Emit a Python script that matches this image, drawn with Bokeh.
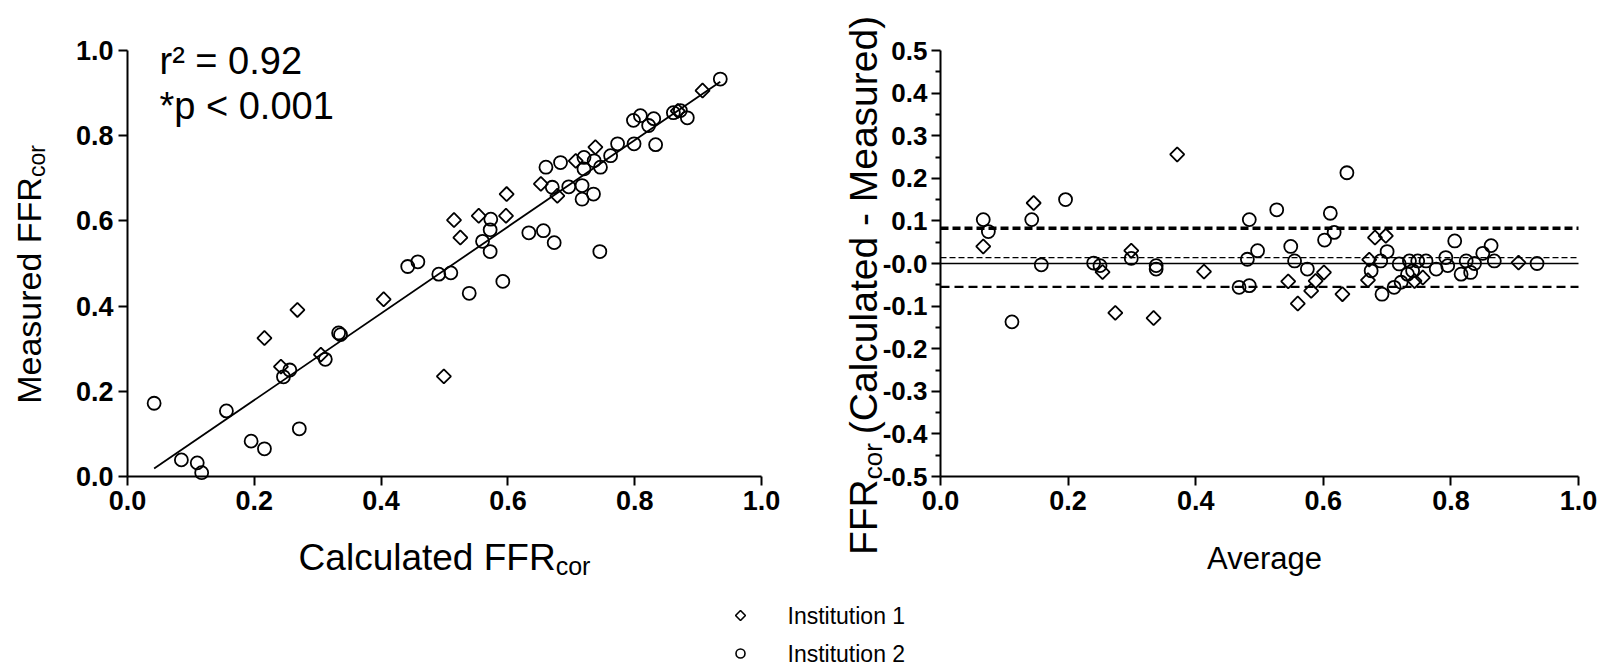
import numpy as np
from bokeh.plotting import figure
from bokeh.models import Range1d, FixedTicker, CustomJSTickFormatter, Label
from bokeh.layouts import column, row
from bokeh.embed import file_html
from bokeh.resources import INLINE
from bokeh.core.properties import value

# ---------------- data ----------------
series_names = ["Institution 1", "Institution 2"]
unit_ticks = [0.0, 0.2, 0.4, 0.6, 0.8, 1.0]
diff_ticks = [-0.5, -0.4, -0.3, -0.2, -0.1, 0.0, 0.1, 0.2, 0.3, 0.4, 0.5]
diff_minor_ticks = [-0.45, -0.35, -0.25, -0.15, -0.05, 0.05, 0.15, 0.25, 0.35, 0.45]

# scatter: calculated vs measured
calc1 = [0.216, 0.268, 0.242, 0.305, 0.404, 0.499, 0.515, 0.554, 0.597, 0.525,
         0.598, 0.652, 0.678, 0.707, 0.738, 0.907, 0.868]
meas1 = [0.325, 0.391, 0.258, 0.286, 0.416, 0.235, 0.602, 0.612, 0.612, 0.561,
         0.663, 0.687, 0.659, 0.741, 0.773, 0.906, 0.858]
calc2 = [0.042, 0.085, 0.110, 0.117, 0.156, 0.195, 0.216, 0.271, 0.246, 0.256,
         0.333, 0.336, 0.312, 0.442, 0.458, 0.491, 0.510, 0.539, 0.592, 0.573,
         0.572, 0.560, 0.572, 0.633, 0.656, 0.673, 0.745, 0.660, 0.683, 0.670,
         0.696, 0.717, 0.717, 0.735, 0.720, 0.736, 0.746, 0.720, 0.762, 0.773,
         0.799, 0.833, 0.798, 0.809, 0.822, 0.830, 0.861, 0.872, 0.883, 0.935]
meas2 = [0.172, 0.039, 0.032, 0.009, 0.154, 0.083, 0.065, 0.112, 0.234, 0.250,
         0.337, 0.333, 0.275, 0.493, 0.504, 0.475, 0.478, 0.430, 0.458, 0.604,
         0.579, 0.552, 0.528, 0.572, 0.577, 0.549, 0.528, 0.726, 0.737, 0.679,
         0.680, 0.683, 0.651, 0.663, 0.749, 0.741, 0.726, 0.722, 0.753, 0.781,
         0.781, 0.779, 0.836, 0.847, 0.824, 0.840, 0.854, 0.859, 0.842, 0.933]
fit_slope = 1.017
fit_intercept = -0.024
r2_text = "r\u00b2 = 0.92"
p_text = "*p < 0.001"

# Bland-Altman: average vs difference
avg1 = [0.067, 0.146, 0.254, 0.299, 0.274, 0.334, 0.371, 0.413, 0.545, 0.560,
        0.601, 0.588, 0.581, 0.630, 0.681, 0.698, 0.672, 0.670, 0.743, 0.756, 0.906]
diff1 = [0.040, 0.142, -0.020, 0.030, -0.116, -0.128, 0.256, -0.019, -0.042, -0.094,
         -0.021, -0.041, -0.064, -0.072, 0.061, 0.065, 0.009, -0.039, -0.041, -0.033, 0.002]
avg2 = [0.067, 0.075, 0.143, 0.196, 0.158, 0.112, 0.240, 0.250, 0.299, 0.338,
        0.338, 0.468, 0.484, 0.484, 0.481, 0.497, 0.527, 0.549, 0.555, 0.575,
        0.611, 0.617, 0.602, 0.637, 0.700, 0.675, 0.692, 0.690, 0.711, 0.722,
        0.719, 0.732, 0.740, 0.735, 0.748, 0.761, 0.777, 0.792, 0.795, 0.806,
        0.816, 0.831, 0.824, 0.837, 0.850, 0.863, 0.868, 0.935]
diff2 = [0.103, 0.075, 0.103, 0.150, -0.003, -0.137, 0.001, -0.005, 0.012, -0.005,
         -0.013, -0.056, -0.052, 0.103, 0.010, 0.030, 0.126, 0.040, 0.006, -0.013,
         0.118, 0.073, 0.055, 0.213, 0.028, -0.017, -0.072, 0.006, -0.056, -0.044,
         -0.001, -0.025, -0.017, 0.006, 0.006, 0.006, -0.013, 0.014, -0.005, 0.053,
         -0.025, -0.021, 0.006, 0.000, 0.024, 0.042, 0.006, 0.000]
bias = 0.014
loa_upper = 0.083
loa_lower = -0.055

# ---------------- style / layout ----------------
FONT = "Liberation Sans"
TICK_SIZE = "27px"
TOP_H = 598          # height of the two chart panels
TOP, BOT = 50, 476   # pixel rows of the top / bottom of both axes
W1, W2 = 800, 807
L_X0, L_X1 = 127, 761              # left plot x=0 / x=1 pixel columns
R_X0, R_X1 = 940 - W1, 1578 - W1   # right plot (local to its panel)


def style_axes(p):
    p.outline_line_color = None
    p.grid.grid_line_color = None
    p.background_fill_color = "white"
    p.border_fill_color = "white"
    for ax in p.axis:
        ax.axis_line_width = 2
        ax.axis_line_color = "black"
        ax.major_tick_line_width = 2
        ax.major_tick_line_color = "black"
        ax.major_tick_out = 9
        ax.major_tick_in = 0
        ax.minor_tick_line_width = 2
        ax.minor_tick_line_color = "black"
        ax.minor_tick_out = 5
        ax.minor_tick_in = 0
        ax.major_label_text_font = FONT
        ax.major_label_text_font_style = "bold"
        ax.major_label_text_font_size = TICK_SIZE
        ax.major_label_text_color = "black"
        ax.major_label_standoff = 5


fmt = CustomJSTickFormatter(code="return tick.toFixed(1);")
fmt_diff = CustomJSTickFormatter(code="return Math.abs(tick) < 1e-9 ? '-0.0' : tick.toFixed(1);")


def lab(p, x, y, text, size, align="left", baseline="middle", angle=0, xoff=0, yoff=0):
    p.add_layout(Label(x=x, y=y, text=text, text_font=FONT, text_font_size=f"{size}px",
                       text_align=align, text_baseline=baseline, angle=angle,
                       x_offset=xoff, y_offset=yoff, text_color="black"))


# ---------------- left plot ----------------
lsx = L_X1 - L_X0
lsy = BOT - TOP
p1 = figure(width=W1, height=TOP_H,
            x_range=Range1d(-L_X0 / lsx, (W1 - L_X0) / lsx),
            y_range=Range1d(-(TOP_H - BOT) / lsy, BOT / lsy),
            min_border=0, output_backend="svg", toolbar_location=None)
style_axes(p1)
for ax in p1.axis:
    ax.ticker = FixedTicker(ticks=unit_ticks, minor_ticks=[])
    ax.formatter = fmt
    ax.bounds = (0, 1)
    ax.fixed_location = 0

xfit = np.array([min(calc1 + calc2), max(calc1 + calc2)])
p1.line(xfit, fit_slope * xfit + fit_intercept, line_color="black", line_width=1.8)
p1.scatter(calc2, meas2, marker="circle", size=13, fill_color=None,
           line_color="black", line_width=1.8)
p1.scatter(calc1, meas1, marker="square", angle=np.pi / 4, size=10, fill_color=None,
           line_color="black", line_width=1.8)


def Lx(px): return (px - L_X0) / lsx
def Ly(py): return (BOT - py) / lsy


lab(p1, Lx(159), Ly(60), r2_text, 38)
lab(p1, Lx(159), Ly(105), p_text, 38)

# x title: Calculated FFR_cor
XT, XS = 37, 25
w_main = 6.946 * XT
w_sub = 1.389 * XS
anchor = 444 + (w_main - w_sub) / 2
lab(p1, Lx(anchor), Ly(557), "Calculated FFR", XT, align="right", baseline="alphabetic")
lab(p1, Lx(anchor), Ly(565), "cor", XS, align="left", baseline="alphabetic")

# y title: Measured FFR_cor
YT, YS = 34, 23
w_main = 6.668 * YT
w_sub = 1.389 * YS
anchor = 274 - (w_main - w_sub) / 2
lab(p1, Lx(28), Ly(anchor), "Measured FFR", YT, align="right", angle=np.pi / 2)
lab(p1, Lx(28), Ly(anchor), "cor", YS, align="left", angle=np.pi / 2, xoff=8)

# ---------------- right plot ----------------
rsx = R_X1 - R_X0
p2 = figure(width=W2, height=TOP_H,
            x_range=Range1d(-R_X0 / rsx, (W2 - R_X0) / rsx),
            y_range=Range1d(-0.5 - (TOP_H - BOT) / lsy, 0.5 + TOP / lsy),
            min_border=0, output_backend="svg", toolbar_location=None)
style_axes(p2)
p2.xaxis.ticker = FixedTicker(ticks=unit_ticks, minor_ticks=[])
p2.xaxis.formatter = fmt
p2.xaxis.bounds = (0, 1)
p2.xaxis.fixed_location = -0.5
p2.yaxis.ticker = FixedTicker(ticks=diff_ticks, minor_ticks=diff_minor_ticks)
p2.yaxis.formatter = fmt_diff
p2.yaxis.bounds = (-0.5, 0.5)
p2.yaxis.fixed_location = 0
p2.yaxis.major_label_standoff = 4
p2.yaxis.major_label_text_font_size = "26px"

x_ext = [unit_ticks[0], unit_ticks[-1]]
p2.line(x_ext, [0.0, 0.0], line_color="black", line_width=1.6)
p2.line(x_ext, [bias, bias], line_color="black", line_width=1.2, line_dash="6 3")
p2.line(x_ext, [loa_upper, loa_upper], line_color="black", line_width=3.5, line_dash="8 4")
p2.line(x_ext, [loa_lower, loa_lower], line_color="black", line_width=2.2, line_dash="9 5")

p2.scatter(avg2, diff2, marker="circle", size=13, fill_color=None,
           line_color="black", line_width=1.8)
p2.scatter(avg1, diff1, marker="square", angle=np.pi / 4, size=10, fill_color=None,
           line_color="black", line_width=1.8)


def Rx(px): return (px - W1 - R_X0) / rsx
def Ry(py): return 0.5 - (py - TOP) / lsy


lab(p2, Rx(1264), Ry(558), "Average", 31, align="center")

RT, RS = 39, 26
w_ffr = 1.944 * RT
w_sub = 1.389 * RS
w_rest = 10.725 * RT
gap = 9
total = w_ffr + w_sub + gap + w_rest
bottom = 285 + total / 2
a1 = bottom - w_ffr
RX = 863
lab(p2, Rx(RX), Ry(a1), "FFR", RT, align="right", angle=np.pi / 2)
lab(p2, Rx(RX), Ry(a1), "cor", RS, align="left", angle=np.pi / 2, xoff=9)
lab(p2, Rx(RX), Ry(a1 - w_sub - gap), "(Calculated - Measured)", RT,
    align="left", angle=np.pi / 2)

# ---------------- legend strip ----------------
LEG_H = 665 - TOP_H
p3 = figure(width=W1 + W2, height=LEG_H, x_range=Range1d(0, W1 + W2),
            y_range=Range1d(665, TOP_H),
            min_border=0, output_backend="svg", toolbar_location=None)
p3.axis.visible = False
p3.grid.grid_line_color = None
p3.outline_line_color = None
leg_y = [615, 653]
p3.scatter([740], [leg_y[0]], marker="square", angle=np.pi / 4, size=7, fill_color=None,
           line_color="black", line_width=1.6)
p3.scatter([740], [leg_y[1]], marker="circle", size=9, fill_color=None,
           line_color="black", line_width=1.6)
p3.text(x=[787, 787], y=leg_y, text=series_names, text_font=value(FONT),
        text_font_size="23px", text_baseline="middle", text_color="black")

layout = column(row(p1, p2, spacing=0), p3, spacing=0)
open("out.html", "w").write(file_html(layout, INLINE))
